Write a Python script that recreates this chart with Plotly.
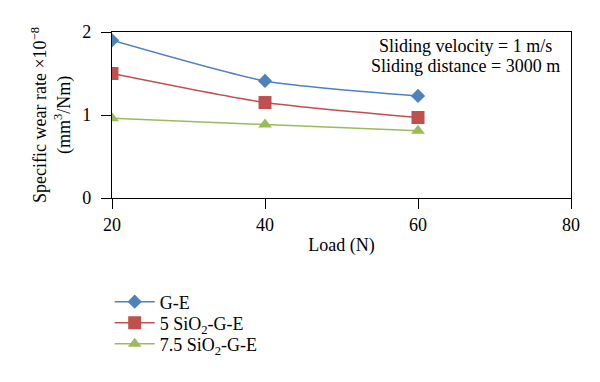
import plotly.graph_objects as go

loads = [20, 40, 60]
ge = [1.90, 1.41, 1.23]
sio2_5 = [1.50, 1.15, 0.97]
sio2_75 = [0.96, 0.885, 0.81]

names = ["G-E", "5 SiO<sub>2</sub>-G-E", "7.5 SiO<sub>2</sub>-G-E"]
colors = ["#4F81BD", "#C0504D", "#9BBB59"]
symbols = ["diamond", "square", "triangle-up"]
sizes = [11, 13, 12]
note_lines = ["Sliding velocity = 1 m/s", "Sliding distance = 3000 m"]

FONT = "Liberation Serif"
legend_ids = ["legend", "legend2", "legend3"]
legend_tops = [-0.515, -0.642, -0.768]

fig = go.Figure()
for vals, name, col, sym, sz, lg in zip([ge, sio2_5, sio2_75], names, colors, symbols, sizes, legend_ids):
    fig.add_trace(go.Scatter(
        x=loads, y=vals, name=name, mode="lines+markers", legend=lg,
        line=dict(color=col, width=1.5, shape="spline", smoothing=0.6),
        marker=dict(symbol=sym, size=sz, color=col),
    ))

for txt, yy in zip(note_lines, [0.916, 0.795]):
    fig.add_annotation(
        x=0.771, y=yy, xref="paper", yref="paper", xanchor="center", yanchor="middle",
        text=txt, showarrow=False, font=dict(family=FONT, size=18, color="#000"),
    )

fig.add_annotation(
    x=-0.133, y=0.5, xref="paper", yref="paper", xanchor="center", yanchor="middle",
    text="Specific wear rate ×10<sup>−8</sup><br>(mm<sup>3</sup>/Nm)",
    textangle=-90, showarrow=False, font=dict(family=FONT, size=18, color="#000"),
)

legend_layout = {}
for lg, top in zip(legend_ids, legend_tops):
    legend_layout[lg] = dict(x=-0.005, y=top, xanchor="left", yanchor="top",
                             font=dict(family=FONT, size=18, color="#000"),
                             itemwidth=40, bgcolor="rgba(0,0,0,0)")

fig.update_layout(
    width=592, height=374,
    margin=dict(l=104, r=29, t=24, b=184, autoexpand=False),
    paper_bgcolor="white", plot_bgcolor="white",
    font=dict(family=FONT, size=18, color="#000"),
    showlegend=True,
    **legend_layout,
    xaxis=dict(
        range=[20, 80], tickvals=[20, 40, 60, 80], automargin=False,
        showline=True, linecolor="#000", linewidth=1.3, mirror=True,
        ticks="outside", ticklen=10, tickcolor="#000", showgrid=False, zeroline=False,
        title=dict(text="Load (N)", standoff=4, font=dict(family=FONT, size=18)),
        tickfont=dict(family=FONT, size=18),
    ),
    yaxis=dict(
        range=[0, 2], tickvals=[0, 1, 2], automargin=False,
        showline=True, linecolor="#000", linewidth=1.3, mirror=True,
        ticks="outside", ticklen=10, tickcolor="#000", showgrid=False, zeroline=False,
        ticklabelstandoff=6,
        tickfont=dict(family=FONT, size=18),
    ),
)

fig.write_html("out.html")
